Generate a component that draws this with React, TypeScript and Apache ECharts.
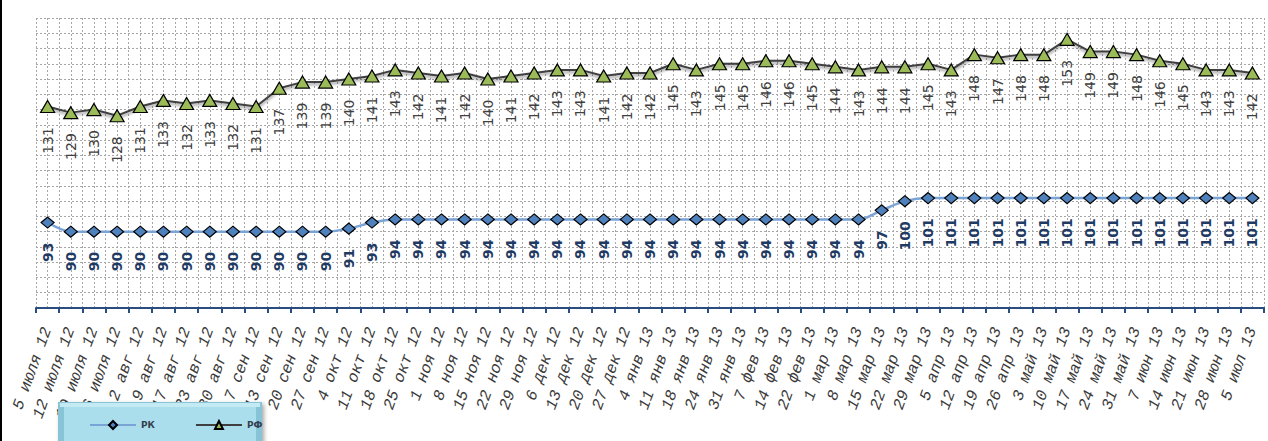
import React, { useEffect, useRef } from "react";
import * as echarts from "echarts";

const categories: string[] = [
  "5 июля 12", "12 июля 12", "19 июля 12", "26 июля 12", "2 авг 12", "9 авг 12", "17 авг 12",
  "23 авг 12", "30 авг 12", "7 сен 12", "13 сен 12", "20 сен 12", "27 сен 12", "4 окт 12",
  "11 окт 12", "18 окт 12", "25 окт 12", "1 ноя 12", "8 ноя 12", "15 ноя 12", "22 ноя 12",
  "29 ноя 12", "6 дек 12", "13 дек 12", "20 дек 12", "27 дек 12", "4 янв 13", "11 янв 13",
  "18 янв 13", "24 янв 13", "31 янв 13", "7 фев 13", "14 фев 13", "22 фев 13", "1 мар 13",
  "8 мар 13", "15 мар 13", "22 мар 13", "29 мар 13", "5 апр 13", "12 апр 13", "19 апр 13",
  "26 апр 13", "3 май 13", "10 май 13", "17 май 13", "24 май 13", "31 май 13", "7 июн 13",
  "14 июн 13", "21 июн 13", "28 июн 13", "5 июл 13",
];

const rkValues: number[] = [
  93, 90, 90, 90, 90, 90, 90, 90, 90, 90, 90, 90, 90, 91, 93, 94, 94, 94, 94, 94, 94,
  94, 94, 94, 94, 94, 94, 94, 94, 94, 94, 94, 94, 94, 94, 94, 97, 100, 101, 101, 101, 101,
  101, 101, 101, 101, 101, 101, 101, 101, 101, 101, 101,
];

const rfValues: number[] = [
  131, 129, 130, 128, 131, 133, 132, 133, 132, 131, 137, 139, 139, 140, 141, 143, 142, 141,
  142, 140, 141, 142, 143, 143, 141, 142, 142, 145, 143, 145, 145, 146, 146, 145, 144, 143,
  144, 144, 145, 143, 148, 147, 148, 148, 153, 149, 149, 148, 146, 145, 143, 143, 142,
];

const seriesNames: string[] = ["РК", "РФ"];

// half-category slots used only for the vertical dotted grid
const gridSlots: string[] = categories.flatMap((c) => [c + "a", c + "b"]);

export default function App() {
  const ref = useRef<HTMLDivElement>(null);
  useEffect(() => {
    if (!ref.current) return;
    const chart = echarts.init(ref.current, undefined, { renderer: "svg" });
    const gridLine = { type: [2, 2] as number[], color: "#a6a6a6", width: 1 };
    chart.setOption({
      animation: false,
      backgroundColor: "#ffffff",
      grid: { left: 36, right: 4, top: 18, bottom: 133, containLabel: false },
      xAxis: [
        {
          type: "category",
          data: categories,
          boundaryGap: true,
          position: "bottom",
          axisLine: { show: true, lineStyle: { color: "#2a4d7f", width: 2 } },
          axisTick: { show: true, interval: 0, length: 5, lineStyle: { color: "#2a4d7f", width: 2 } },
          axisLabel: {
            interval: 0,
            rotate: 70,
            margin: 20,
            fontFamily: "Liberation Mono",
            fontStyle: "italic",
            fontSize: 16,
            color: "#3a3a3a",
          },
          splitLine: { show: false },
          z: 3,
        },
        {
          type: "category",
          data: gridSlots,
          boundaryGap: true,
          position: "top",
          axisLine: { show: false },
          axisTick: { show: false },
          axisLabel: { show: false },
          splitLine: { show: true, interval: 0, lineStyle: gridLine },
        },
      ],
      yAxis: {
        type: "value",
        min: 65,
        max: 160,
        interval: 5,
        axisLine: { show: false },
        axisTick: { show: false },
        axisLabel: { show: false },
        splitLine: { show: true, lineStyle: gridLine },
      },
      legend: {
        left: 84,
        top: 415,
        itemWidth: 46,
        itemHeight: 10,
        itemGap: 40,
        z: 60,
        textStyle: { fontFamily: "DejaVu Sans", fontSize: 9, fontWeight: "bold", color: "#333f50" },
        data: seriesNames,
      },
      graphic: [
        { type: "rect", z: 40, shape: { x: 58, y: 402, width: 204, height: 45 }, style: { fill: "#86c4d6", shadowBlur: 4, shadowColor: "rgba(0,0,0,0.35)", shadowOffsetX: 2, shadowOffsetY: 2 } },
        { type: "rect", z: 41, shape: { x: 60, y: 403, width: 200, height: 4 }, style: { fill: "#c4eaf4" } },
        { type: "rect", z: 41, shape: { x: 64, y: 407, width: 192, height: 40 }, style: { fill: "#abdeec" } },
        { type: "rect", z: 41, shape: { x: 0, y: 0, width: 2, height: 441 }, style: { fill: "#000000" } },
      ],
      series: [
        {
          name: seriesNames[0],
          type: "line",
          data: rkValues,
          smooth: 0.3,
          symbol: "diamond",
          symbolSize: [13, 11],
          itemStyle: { color: "#4f81bd", borderColor: "#000000", borderWidth: 1.2 },
          lineStyle: { color: "#7aa3d6", width: 2.5 },
          label: {
            show: true,
            position: "bottom",
            distance: 14,
            rotate: 90,
            align: "right",
            verticalAlign: "middle",
            fontFamily: "DejaVu Sans",
            fontSize: 14,
            fontWeight: "bold",
            color: "#1f3b64",
          },
          z: 5,
        },
        {
          name: seriesNames[1],
          type: "line",
          data: rfValues,
          symbol: "triangle",
          symbolSize: [14, 12],
          itemStyle: { color: "#9bbb59", borderColor: "#000000", borderWidth: 1.2 },
          lineStyle: {
            color: "#3f3f3f",
            width: 2,
            shadowColor: "rgba(0,0,0,0.45)",
            shadowBlur: 3,
            shadowOffsetY: 2,
          },
          label: {
            show: true,
            position: "bottom",
            distance: 14,
            rotate: 90,
            align: "right",
            verticalAlign: "middle",
            fontFamily: "DejaVu Sans",
            fontSize: 14,
            color: "#404040",
          },
          z: 5,
        },
      ],
    });
    return () => chart.dispose();
  }, []);
  return (
    <div
      ref={ref}
      style={{ position: "fixed", left: 0, top: 0, width: 1268, height: 441 }}
    />
  );
}
